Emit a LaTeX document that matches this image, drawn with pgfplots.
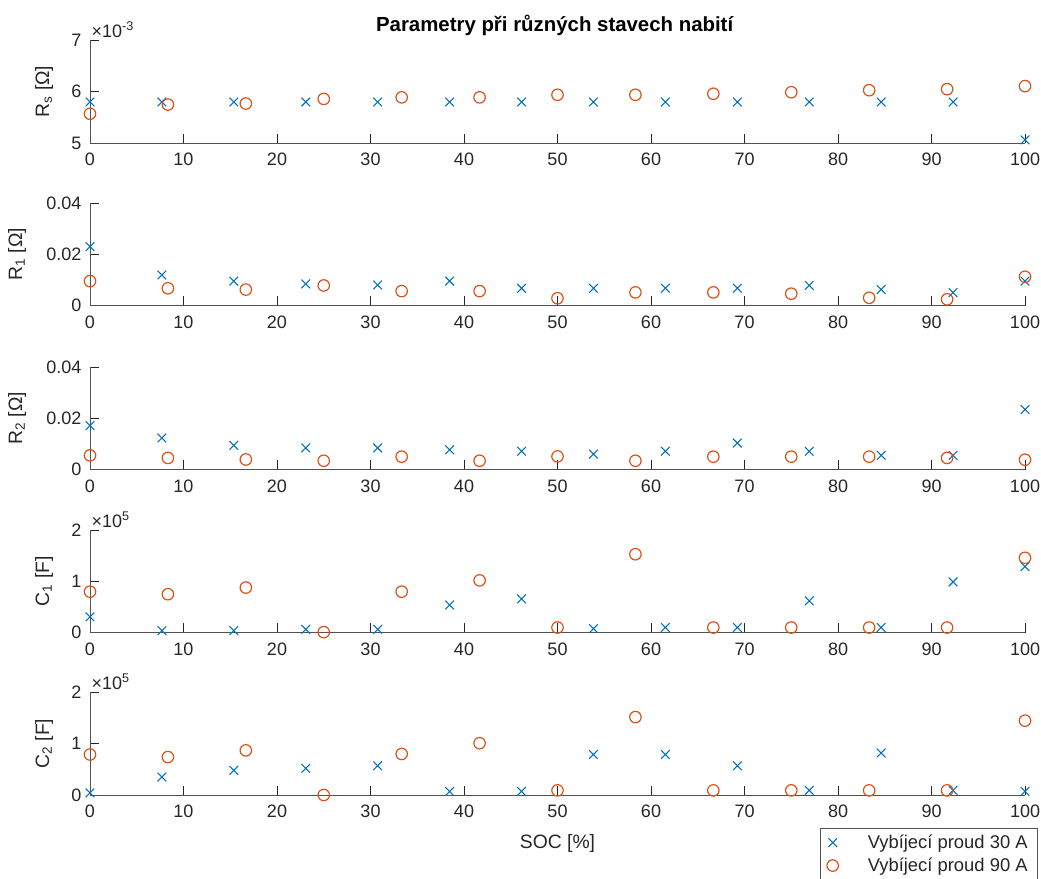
\documentclass[border=0pt]{standalone}
\usepackage{fontspec}
\setmainfont{Liberation Sans}
\usepackage{pgfplots}
\pgfplotsset{compat=1.18}
\usepackage{pgfplotstable}

\definecolor{mblue}{rgb}{0,0.447,0.741}
\definecolor{morange}{rgb}{0.85,0.325,0.098}
\definecolor{mgray}{rgb}{0.15,0.15,0.15}

\pgfplotstableread{
x Rs R1 R2 C1 C2
0 5.80 0.0231 0.0172 0.31 0.04
7.6923 5.80 0.0120 0.0124 0.04 0.35
15.3846 5.80 0.0096 0.0095 0.04 0.48
23.0769 5.80 0.0085 0.0085 0.065 0.52
30.7692 5.80 0.0081 0.0085 0.065 0.57
38.4615 5.80 0.0096 0.0078 0.54 0.07
46.1538 5.80 0.0068 0.0072 0.66 0.07
53.8462 5.80 0.0068 0.0061 0.08 0.79
61.5385 5.80 0.0068 0.0072 0.10 0.79
69.2308 5.80 0.0068 0.0104 0.10 0.57
76.9231 5.80 0.0079 0.0072 0.62 0.09
84.6154 5.80 0.0063 0.0056 0.10 0.82
92.3077 5.80 0.0051 0.0056 0.99 0.09
100 5.06 0.0096 0.0235 1.29 0.07
}\tblue

\pgfplotstableread{
x Rs R1 R2 C1 C2
0 5.57 0.0096 0.0056 0.80 0.79
8.3333 5.75 0.0068 0.0046 0.75 0.74
16.6667 5.77 0.0063 0.0040 0.88 0.87
25 5.86 0.0079 0.0035 0.01 0.0
33.3333 5.89 0.0057 0.0051 0.80 0.80
41.6667 5.89 0.0057 0.0035 1.02 1.01
50 5.94 0.0029 0.0052 0.10 0.09
58.3333 5.94 0.0052 0.0035 1.53 1.52
66.6667 5.96 0.0052 0.0051 0.10 0.09
75 5.99 0.0047 0.0051 0.10 0.09
83.3333 6.03 0.0031 0.0051 0.10 0.09
91.6667 6.05 0.0025 0.0046 0.10 0.09
100 6.11 0.0113 0.0039 1.46 1.45
}\torange

\pgfplotsset{
 panel/.style={
   scale only axis, width=701.25pt, height=76.9pt, anchor=south west,
   xmin=0, xmax=100, xtick={0,10,...,100},
   axis x line*=bottom, axis y line*=left,
   axis line style={-, mgray!80, line width=0.7pt},
   tick style={mgray, line width=0.6pt},
   tick align=inside, major tick length=7pt,
   hide obscured x ticks=false, hide obscured y ticks=false,
   scaled y ticks=false, scaled x ticks=false,
   ticklabel style={font=\fontsize{13.5}{15}\selectfont, text=mgray},
   xticklabel style={yshift=-4pt},
   yticklabel style={xshift=-3pt},
   /pgf/number format/assume math mode=true,
   clip=false,
   every axis y label/.style={at={(axis description cs:-0.0492,0.5)}, rotate=90, anchor=center, font=\fontsize{14.5}{16}\selectfont, text=mgray},
   every axis x label/.style={at={(axis description cs:0.5,0)}, anchor=center, yshift=-36pt, font=\fontsize{14.5}{16}\selectfont, text=mgray},
 },
 widelabel/.style={every axis y label/.append style={at={(axis description cs:-0.078,0.5)}}},
 s30/.style={only marks, mark=x, mark size=4.6pt, color=mblue, line width=0.8pt},
 s90/.style={only marks, mark=o, mark size=4.3pt, color=morange, line width=0.9pt},
}

\begin{document}
\begin{tikzpicture}
\useasboundingbox (0,0) rectangle (780.75pt,658.5pt);

\node[font=\bfseries\fontsize{15.3}{17}\selectfont, text=black] at (416pt,639.75pt) {Parametry při různých stavech nabití};

% Rs
\begin{axis}[panel, at={(67.5pt,551.25pt)}, ymin=5, ymax=7, ytick={5,6,7}, yticklabels={5,6,7},
  ylabel={R\textsubscript{s} [Ω]}]
\addplot[s30] table[x=x,y=Rs]{\tblue};
\addplot[s90] table[x=x,y=Rs]{\torange};
\node[anchor=south west, inner sep=0pt, xshift=1pt, yshift=2pt, font=\fontsize{13.5}{15}\selectfont, text=mgray] at (rel axis cs:0,1) {×10\textsuperscript{-3}};
\end{axis}

% R1
\begin{axis}[panel, widelabel, at={(67.5pt,429.2pt)}, ymin=0, ymax=0.04, ytick={0,0.02,0.04}, yticklabels={0,0.02,0.04},
  ylabel={R\textsubscript{1} [Ω]}]
\addplot[s30] table[x=x,y=R1]{\tblue};
\addplot[s90] table[x=x,y=R1]{\torange};
\end{axis}

% R2
\begin{axis}[panel, widelabel, at={(67.5pt,306.2pt)}, ymin=0, ymax=0.04, ytick={0,0.02,0.04}, yticklabels={0,0.02,0.04},
  ylabel={R\textsubscript{2} [Ω]}]
\addplot[s30] table[x=x,y=R2]{\tblue};
\addplot[s90] table[x=x,y=R2]{\torange};
\end{axis}

% C1
\begin{axis}[panel, at={(67.5pt,184.0pt)}, ymin=0, ymax=2, ytick={0,1,2}, yticklabels={0,1,2},
  ylabel={C\textsubscript{1} [F]}]
\addplot[s30] table[x=x,y=C1]{\tblue};
\addplot[s90] table[x=x,y=C1]{\torange};
\node[anchor=south west, inner sep=0pt, xshift=1pt, yshift=2pt, font=\fontsize{13.5}{15}\selectfont, text=mgray] at (rel axis cs:0,1) {×10\textsuperscript{5}};
\end{axis}

% C2
\begin{axis}[panel, at={(67.5pt,62.25pt)}, ymin=0, ymax=2, ytick={0,1,2}, yticklabels={0,1,2},
  ylabel={C\textsubscript{2} [F]}, xlabel={SOC [\%]},
  legend style={at={(0.7807,-0.321)}, anchor=north west, draw=mgray!80, line width=0.5pt,
    font=\fontsize{13.8}{15}\selectfont, text=mgray, row sep=1.5pt, column sep=20pt, inner xsep=5pt, inner ysep=3pt},
  legend cell align=left]
\addplot[s30] table[x=x,y=C2]{\tblue};
\addlegendentry{Vybíjecí proud 30 A}
\addplot[s90] table[x=x,y=C2]{\torange};
\addlegendentry{Vybíjecí proud 90 A}
\node[anchor=south west, inner sep=0pt, xshift=1pt, yshift=2pt, font=\fontsize{13.5}{15}\selectfont, text=mgray] at (rel axis cs:0,1) {×10\textsuperscript{5}};
\end{axis}
\end{tikzpicture}
\end{document}
